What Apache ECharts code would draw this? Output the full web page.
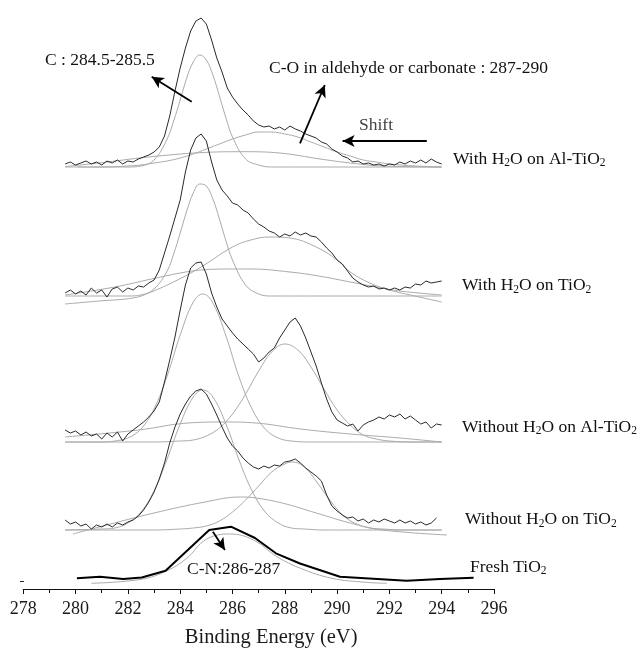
<!DOCTYPE html>
<html>
<head>
<meta charset="utf-8">
<title>C 1s XPS spectra</title>
<script src="https://cdn.jsdelivr.net/npm/echarts@6/dist/echarts.min.js"></script>
<style>
  html, body { margin: 0; padding: 0; background: #fff; }
  #chart { width: 640px; height: 650px; }
</style>
</head>
<body>
<div id="chart"></div>
<script>
// --- energy grid of the measured (noisy) spectra, eV ---
const energyGrid = [279.6,279.8,280.0,280.2,280.4,280.6,280.8,281.0,281.2,281.4,281.6,281.8,282.0,282.2,282.4,282.6,282.8,283.0,283.2,283.4,283.6,283.8,284.0,284.2,284.4,284.6,284.8,285.0,285.2,285.4,285.6,285.8,286.0,286.2,286.4,286.6,286.8,287.0,287.2,287.4,287.6,287.8,288.0,288.2,288.4,288.6,288.8,289.0,289.2,289.4,289.6,289.8,290.0,290.2,290.4,290.6,290.8,291.0,291.2,291.4,291.6,291.8,292.0,292.2,292.4,292.6,292.8,293.0,293.2,293.4,293.6,293.8,294.0]

// --- stacked intensities (a.u.), one array per sample ---
const withH2OAl = [425,427,424,426,428,425,427,424,428,426,429,425,428,427,430,432,434,437,442,453,473,498,521,541,558,568,571,565,549,531,517,501,492,485,479,474,468,464,462,463,460,462,459,463,460,458,455,453,451,447,445,440,437,433,431,427,428,425,426,424,425,423,425,424,427,425,428,426,429,426,430,427,425]
const withH2OTi = [296,299,295,298,294,301,296,299,292,300,302,297,301,299,303,302,306,309,319,336,353,371,389,417,439,451,455,448,427,409,399,393,386,384,379,376,370,365,362,358,356,352,355,353,357,354,356,353,352,347,341,336,329,325,318,311,307,304,302,303,300,301,299,301,299,302,301,305,304,308,306,307,308]
const dryAl = [159,156,158,154,157,153,155,150,156,152,157,148,155,159,163,167,172,178,187,207,229,252,279,304,321,326,327,315,296,282,270,263,256,250,245,240,235,227,231,237,241,251,259,267,271,263,251,237,223,206,190,177,169,166,163,165,158,164,167,169,172,170,174,172,175,170,173,169,165,167,161,165,164]
const dryTi = [69,65,67,63,65,60,64,62,65,62,66,64,67,69,73,79,87,97,110,126,146,162,175,185,193,198,200,195,185,174,162,151,143,138,131,126,122,120,123,121,124,123,127,128,130,126,121,117,113,108,94,83,78,74,71,72,68,70,66,69,67,70,68,66,69,66,68,65,67,64,66,71]

// --- fresh TiO2 (coarse scan) ---
const freshEnergy = [280.05,280.93,281.82,282.53,283.44,285.11,285.94,286.86,287.66,288.58,290.11,292.66,293.94,295.22]
const freshValue = [10.7,12.3,10,11.5,18.3,59,62.3,51,35.7,25.5,12.3,8.3,10,11.3]

// --- fitted components [eV, a.u.] ---
const fit1Main = [[280.1,422],[281,422],[282,422],[282.5,423],[283,429],[283.5,450],[283.75,468],[284,489],[284.25,511],[284.5,527],[284.75,534],[285,529],[285.25,514],[285.5,493],[285.75,471],[286,452],[286.5,430],[287,424],[287.5,422],[289,422],[294,422]]
const fit1CO = [[279.6,422],[281,422],[282,423],[282.5,424],[283,426],[283.5,428],[284,431],[284.5,435],[285,440],[285.5,445],[286,450],[286.5,454],[287,457],[287.5,457],[288,455],[288.5,452],[289,447],[289.5,442],[290,437],[290.5,433],[291,429],[291.5,427],[292,425],[293,423],[294,422]]
const fit1Broad = [[279.6,422.5],[280.9,426],[282.8,432],[284.75,436.3],[286.4,437.3],[287.8,436],[289.35,430],[290.5,426],[291.75,423],[294,422]]

const fit2Main = [[279.6,293],[281,293],[282,293],[282.5,294],[283,300],[283.5,318],[283.75,335],[284,356],[284.25,378],[284.5,396],[284.75,405],[285,403],[285.25,390],[285.5,370],[285.75,348],[286,329],[286.5,304],[287,295],[287.5,293],[289,293],[294,293]]
const fit2CO = [[279.6,285],[280.9,288],[282.2,291],[282.8,296],[283.9,309],[284.8,322],[286.0,342],[286.7,349],[287.4,352],[288.2,351],[289.2,342],[290.0,329],[290.5,317],[291.25,306],[292.0,299],[292.8,294],[294.0,287]]
const fit2Broad = [[279.6,294],[281.5,302],[282.9,310],[284.0,316],[284.8,319],[286.0,320],[286.7,320],[288.2,317],[289.3,313],[290.5,307],[291.5,302],[292.4,298],[294.0,294]]

const fit3Main = [[279.6,147],[281,147],[281.5,148],[282,151],[282.5,160],[283,180],[283.5,213],[284,254],[284.5,287],[284.87,295],[285.25,286],[285.75,253],[286.25,212],[286.75,180],[287.25,160],[287.75,151],[288.25,148],[289,147],[294,147]]
const fit3CO = [[279.6,147],[283,147],[284,148],[284.5,149],[285,153],[285.5,161],[286,175],[286.5,195],[287,218],[287.5,237],[288,245],[288.5,239],[289,222],[289.5,200],[290,179],[290.5,164],[291,154],[291.5,150],[292,148],[293,147],[294,147]]
const fit3Broad = [[279.6,152],[282.4,159],[284.3,166],[285.7,167],[286.9,166],[288.6,160],[290.5,155],[292.4,151],[294,147]]

const fit4Main = [[279.6,59],[281,60],[281.5,61],[282,66],[282.5,77],[283,98],[283.5,130],[284,165],[284.5,192],[284.87,199],[285.25,192],[285.75,165],[286.25,129],[286.75,98],[287.25,77],[287.75,66],[288.25,61],[288.75,60],[289.5,59],[294,59]]
const fit4CO = [[279.6,59],[283,59],[284,60],[284.5,61],[285,63],[285.5,68],[286,77],[286.5,89],[287,103],[287.5,117],[288,125],[288.3,127],[288.75,122],[289.25,106],[289.75,88],[290.25,73],[290.75,65],[291.25,61],[291.75,60],[292.5,59],[294,59]]
const fit4Broad = [[279.9,55],[280.9,62],[283.0,76],[284.95,87],[286.3,92],[286.9,91],[287.9,86],[289.2,76],[290.5,66],[291.75,59],[294.2,54]]

const freshFit = [[280.6,5.7],[282.5,9.7],[283.5,18.3],[284.25,30.7],[285.0,49.7],[285.9,55],[286.8,49],[287.7,32.3],[288.6,20.7],[289.8,10.7],[291.1,6.7],[291.9,5.7]]

// --- annotation arrows [from, to] in data coords ---
const arrows = [
  [[284.44, 487.3], [282.91, 512.3]],
  [[288.58, 445.7], [289.53, 504]],
  [[293.43, 448], [290.21, 448]],
  [[285.25, 57.3], [285.71, 39]]
]

// --- axis ticks ---
const xMin = 278, xMax = 296, xStep = 2

const SERIF = '"Liberation Serif", "Times New Roman", serif'

const pair = (xs, ys) => ys.map((v, i) => [xs[i], v])

const specLine = (data) => ({
  type: 'line', data, showSymbol: false, silent: true, smooth: false,
  lineStyle: { color: '#2a2a2a', width: 1 }, z: 3
})
const fitLine = (data) => ({
  type: 'line', data, showSymbol: false, silent: true, smooth: 0.4,
  lineStyle: { color: '#ababab', width: 1 }, z: 2
})

// text labels with subscripts
const txt = (x, cy, text, color) => ({
  type: 'text', left: x, top: cy - 10,
  style: {
    text, fill: color || '#111', font: '17.5px ' + SERIF,
    lineHeight: 20,
    rich: {
      s: { fontSize: 11.5, fontFamily: SERIF, lineHeight: 8, verticalAlign: 'bottom', fill: color || '#111' }
    }
  }
})

const chart = echarts.init(document.getElementById('chart'))
chart.setOption({
  animation: false,
  backgroundColor: '#fff',
  grid: { left: 23.3, right: 146, top: 0, bottom: 61, containLabel: false, outerBoundsMode: 'none' },
  xAxis: {
    type: 'value', min: xMin, max: xMax, interval: xStep,
    axisLine: { show: true, onZero: false, lineStyle: { color: '#111', width: 1.2 } },
    axisTick: { show: true, length: 5, lineStyle: { color: '#111', width: 1 } },
    minorTick: { show: true, splitNumber: 2, length: 4, lineStyle: { color: '#111', width: 1 } },
    splitLine: { show: false },
    axisLabel: { fontFamily: SERIF, fontSize: 18, color: '#1a1a1a', margin: 11 },
    name: 'Binding Energy (eV)', nameLocation: 'middle', nameGap: 38,
    nameTextStyle: { fontFamily: SERIF, fontSize: 20.5, color: '#1a1a1a', padding: [0, 0, 0, 25] }
  },
  yAxis: { type: 'value', min: 0, max: 589, show: false },
  series: [
    fitLine(fit1Main), fitLine(fit1CO), fitLine(fit1Broad),
    fitLine(fit2Main), fitLine(fit2CO), fitLine(fit2Broad),
    fitLine(fit3Main), fitLine(fit3CO), fitLine(fit3Broad),
    fitLine(fit4Main), fitLine(fit4CO), fitLine(fit4Broad),
    fitLine(freshFit),
    specLine(pair(energyGrid, withH2OAl)),
    specLine(pair(energyGrid, withH2OTi)),
    specLine(pair(energyGrid, dryAl)),
    specLine(pair(energyGrid, dryTi)),
    {
      type: 'line', data: pair(freshEnergy, freshValue), showSymbol: false, silent: true,
      lineStyle: { color: '#000', width: 2 }, z: 4,
      markLine: {
        silent: true, animation: false,
        symbol: ['none', 'arrow'], symbolSize: [9, 12],
        label: { show: false },
        lineStyle: { color: '#000', width: 1.8, type: 'solid' },
        data: arrows.map(a => [{ coord: a[0] }, { coord: a[1] }])
      }
    }
  ],
  graphic: [
    txt(45, 60, 'C : 284.5-285.5'),
    txt(269, 68.5, 'C-O in aldehyde or carbonate : 287-290'),
    txt(359, 125.5, 'Shift', '#444'),
    txt(453, 159, 'With H{s|2}O on Al-TiO{s|2}'),
    txt(462, 285.7, 'With H{s|2}O on TiO{s|2}'),
    txt(462, 427.3, 'Without H{s|2}O on Al-TiO{s|2}'),
    txt(465, 519.7, 'Without H{s|2}O on TiO{s|2}'),
    txt(470, 567.3, 'Fresh TiO{s|2}'),
    txt(187, 569, 'C-N:286-287'),
    { type: 'line', shape: { x1: 20, y1: 581.5, x2: 24, y2: 581.5 }, style: { stroke: '#222', lineWidth: 1 } }
  ]
})
</script>
</body>
</html>
